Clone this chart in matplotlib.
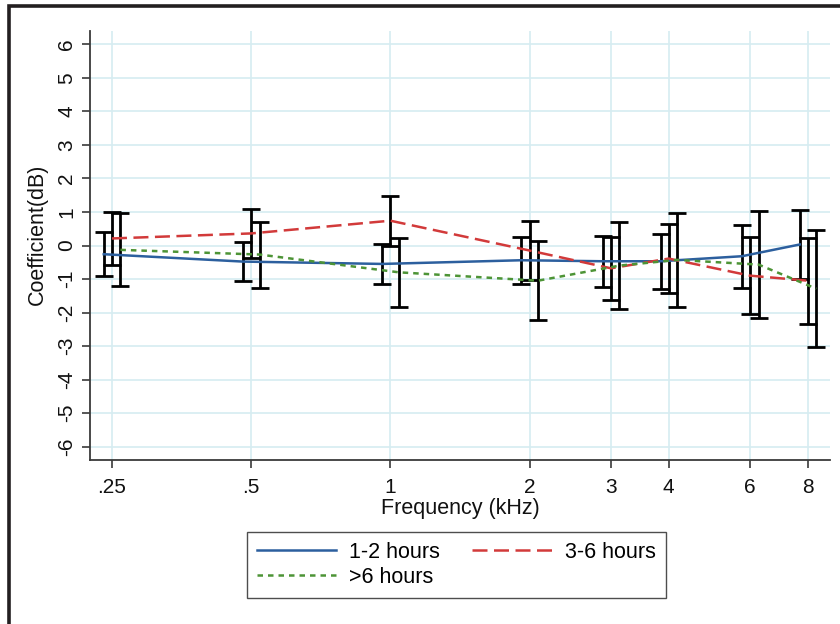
import matplotlib
matplotlib.use("Agg")
import matplotlib.pyplot as plt
from matplotlib.patches import Rectangle
import numpy as np

plt.rcParams['font.family'] = ['Liberation Sans', 'DejaVu Sans']

freqs = [0.25, 0.5, 1, 2, 3, 4, 6, 8]
freq_labels = ['.25', '.5', '1', '2', '3', '4', '6', '8']
y_ticks = [6, 5, 4, 3, 2, 1, 0, -1, -2, -3, -4, -5, -6]

series_names = ['1-2 hours', '3-6 hours', '>6 hours']

blue_coef = [-0.26, -0.48, -0.55, -0.44, -0.47, -0.47, -0.32, 0.03]
blue_lo = [-0.91, -1.07, -1.16, -1.15, -1.24, -1.30, -1.26, -1.00]
blue_hi = [0.39, 0.10, 0.05, 0.26, 0.29, 0.35, 0.61, 1.07]

red_coef = [0.21, 0.36, 0.74, -0.15, -0.68, -0.39, -0.90, -1.05]
red_lo = [-0.57, -0.36, -0.01, -1.03, -1.62, -1.42, -2.05, -2.33]
red_hi = [1.00, 1.08, 1.49, 0.72, 0.26, 0.64, 0.26, 0.23]

green_coef = [-0.13, -0.27, -0.80, -1.05, -0.60, -0.43, -0.57, -1.29]
green_lo = [-1.22, -1.26, -1.83, -2.23, -1.90, -1.84, -2.16, -3.04]
green_hi = [0.96, 0.71, 0.22, 0.13, 0.70, 0.98, 1.02, 0.47]

fig = plt.figure(figsize=(8.4, 6.24), dpi=100)
ax = fig.add_axes([90/840, 1-460/624, 740/840, 429/624])

# outer frame (figure border, clipped at right and bottom)
fig.patches.append(Rectangle((8.5/840, -0.2), 1.5, 1.2 - 6/624, transform=fig.transFigure,
                             fill=False, edgecolor='#231f20', linewidth=2.6, zorder=0))

dodge = [0.96, 1.0, 1.043]
styles = [
    dict(color='#2c5f9e', ls='-', lw=1.8),
    dict(color='#d23a3a', ls=(0, (6, 2.6)), lw=1.8),
    dict(color='#4d9436', ls=(0, (2.2, 2.0)), lw=1.8),
]
data = [(blue_coef, blue_lo, blue_hi), (red_coef, red_lo, red_hi), (green_coef, green_lo, green_hi)]

handles = []
for (c, lo, hi), d, st, name in zip(data, dodge, styles, series_names):
    x = np.array(freqs) * d
    c = np.array(c); lo = np.array(lo); hi = np.array(hi)
    ax.errorbar(x, c, yerr=[c - lo, hi - c], fmt='none', ecolor='black', elinewidth=2.0,
                capsize=6.5, capthick=2.0, zorder=3)
    h, = ax.plot(x, c, label=name, zorder=4, **st)
    handles.append(h)

ax.set_xscale('log')
ax.set_xlim(0.2241, 8.93)
ax.set_ylim(-6.4, 6.4)
ax.set_xticks(freqs)
ax.set_xticklabels(freq_labels)
ax.xaxis.set_minor_locator(matplotlib.ticker.NullLocator())
ax.set_yticks(y_ticks)
ax.set_yticklabels([str(v) for v in y_ticks], rotation=90, va='center')

ax.grid(True, color='#d6ecf1', linewidth=1.2, zorder=0)
ax.set_axisbelow(True)
for s in ['top', 'right']:
    ax.spines[s].set_visible(False)
for s in ['left', 'bottom']:
    ax.spines[s].set_color('#3a3a3a')
    ax.spines[s].set_linewidth(1.3)
ax.tick_params(axis='both', direction='out', length=6, width=1.2, color='#3a3a3a',
               labelsize=15, labelcolor='#111111')
ax.tick_params(axis='y', pad=4)
ax.tick_params(axis='x', pad=7)

ax.set_xlabel('Frequency (kHz)', fontsize=15.5, color='#111111', labelpad=1)
ax.set_ylabel('Coefficient(dB)', fontsize=15.5, color='#111111')
ax.yaxis.set_label_coords(-0.057, 0.525)

# row-wise legend order: matplotlib fills columns first
order = [0, 2, 1]
leg = fig.legend(handles=[handles[i] for i in order], loc='upper left',
                 bbox_to_anchor=(247/840, 1-532/624), borderaxespad=0,
                 ncol=2, fontsize=15.5, frameon=True, fancybox=False, edgecolor='#222222',
                 handlelength=3.7, columnspacing=1.5, borderpad=0.45, labelspacing=0.2,
                 handletextpad=0.6)
leg.get_frame().set_linewidth(1.0)

fig.savefig('out.png', dpi=100)
